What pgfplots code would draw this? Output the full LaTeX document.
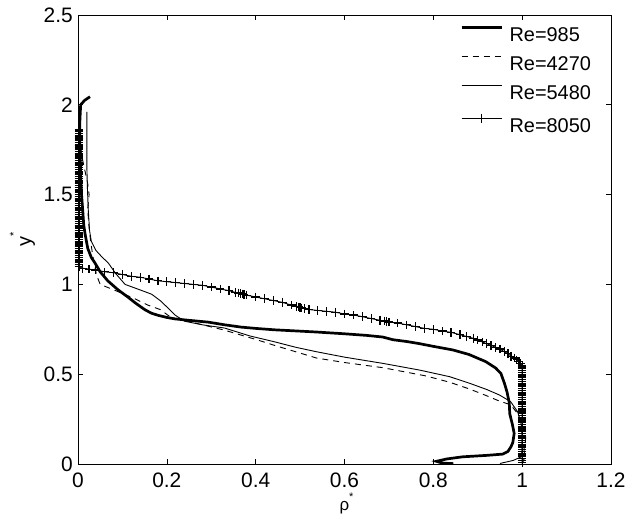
\documentclass[border=0pt]{standalone}
\usepackage{fontspec}
\setmainfont{Liberation Sans}
\usepackage{pgfplots}
\pgfplotsset{compat=1.18}
\begin{document}
\begin{tikzpicture}
\begin{axis}[
  name=ax,
  scale only axis,
  width=533bp, height=449bp,
  xmin=0, xmax=1.2, ymin=0, ymax=2.5,
  xtick={0,0.2,0.4,0.6,0.8,1,1.2},
  ytick={0,0.5,1,1.5,2,2.5},
  tick align=inside,
  major tick length=5bp,
  axis line style={line width=0.8bp},
  tick style={line width=0.6bp, black},
  /pgf/number format/assume math mode=true,
  ticklabel style={font=\fontsize{21}{24}\selectfont},
  xticklabel style={inner sep=0pt, anchor=north, yshift=-9bp},
  yticklabel style={inner sep=0pt, anchor=east, xshift=-5bp},
  xlabel={ρ\smash{\raisebox{9.5bp}{\fontsize{11}{11}\selectfont *}}},
  ylabel={y\smash{\raisebox{13.7bp}{\fontsize{11}{11}\selectfont *}}},
  xlabel style={font=\fontsize{17}{20}\selectfont, at={(axis description cs:0.5,0)}, anchor=base, yshift=-46bp, xshift=2bp, inner sep=0pt},
  ylabel style={font=\fontsize{20}{24}\selectfont, at={(axis description cs:-0.0882,0.5)}, anchor=base, inner sep=0pt},
  legend style={at={(rel axis cs:0.717,0.975)}, anchor=north west, draw=none, fill=none,
    inner sep=0pt, outer sep=0pt, row sep=14.4bp, column sep=0pt,
    nodes={inner sep=0pt, outer sep=0pt, text height=14.3bp, text depth=0pt, font=\fontsize{20}{24}\selectfont}},
  legend cell align=left,
  legend image code/.code={\draw[mark repeat=2,mark phase=2,#1] plot coordinates {(0bp,7bp)(20bp,7bp)(40bp,7bp)}; \path (46.7bp,7bp);},
]
% Re=985
\addplot[black, line width=2.7bp, mark=none] coordinates {
(0.027,2.045) (0.015,2.025) (0.006,2.0) (0.004,1.9) (0.004,1.8) (0.005,1.7) (0.006,1.6) (0.008,1.5) (0.011,1.4) (0.013,1.33) (0.016,1.28) (0.022,1.20) (0.030,1.15) (0.038,1.12) (0.050,1.07) (0.067,1.02) (0.09,0.97) (0.112,0.93) (0.13,0.895) (0.15,0.86) (0.165,0.84) (0.18,0.828) (0.20,0.816) (0.218,0.808) (0.25,0.80) (0.293,0.79) (0.33,0.775) (0.368,0.762) (0.40,0.755) (0.443,0.747) (0.49,0.741) (0.536,0.735) (0.60,0.725) (0.65,0.716) (0.686,0.707) (0.709,0.692) (0.74,0.682) (0.769,0.670) (0.80,0.655) (0.844,0.635) (0.88,0.61) (0.918,0.57) (0.94,0.535) (0.952,0.505) (0.96,0.45) (0.966,0.40) (0.971,0.34) (0.972,0.28) (0.978,0.22) (0.982,0.17) (0.979,0.12) (0.975,0.097) (0.968,0.07) (0.956,0.055) (0.92,0.048) (0.866,0.040) (0.83,0.028) (0.807,0.015) (0.82,0.005) (0.845,0.002)
};
\addlegendentry{Re=985}
% Re=4270
\addplot[black, line width=0.9bp, dash pattern=on 6bp off 5bp, mark=none] coordinates {
(0.004,1.82) (0.008,1.72) (0.015,1.64) (0.022,1.56) (0.025,1.50) (0.022,1.42) (0.024,1.34) (0.028,1.25) (0.032,1.18) (0.036,1.12) (0.042,1.05) (0.05,1.00) (0.065,0.985) (0.09,0.96) (0.128,0.92) (0.157,0.885) (0.185,0.86) (0.21,0.815) (0.256,0.79) (0.33,0.745) (0.405,0.69) (0.443,0.66) (0.49,0.625) (0.537,0.59) (0.60,0.565) (0.687,0.536) (0.784,0.49) (0.837,0.455) (0.881,0.418) (0.92,0.38) (0.949,0.35) (0.974,0.33) (0.99,0.28) (0.997,0.24) (1.006,0.19) (1.008,0.15) (1.007,0.12) (1.004,0.08) (1.006,0.04) (1.0,0.0)
};
\addlegendentry{Re=4270}
% Re=5480
\addplot[black, line width=0.9bp, mark=none] coordinates {
(0.020,1.96) (0.020,1.80) (0.020,1.65) (0.021,1.55) (0.023,1.42) (0.026,1.30) (0.030,1.24) (0.040,1.19) (0.055,1.15) (0.068,1.12) (0.085,1.06) (0.106,1.00) (0.128,0.98) (0.15,0.96) (0.166,0.945) (0.185,0.91) (0.202,0.87) (0.218,0.83) (0.24,0.795) (0.28,0.775) (0.33,0.757) (0.387,0.713) (0.443,0.68) (0.49,0.65) (0.537,0.625) (0.60,0.595) (0.687,0.56) (0.769,0.523) (0.837,0.486) (0.881,0.45) (0.92,0.415) (0.949,0.384) (0.974,0.347) (0.99,0.29) (0.998,0.22) (1.0,0.15) (1.0,0.08) (0.998,0.04) (0.98,0.02) (0.95,0.003)
};
\addlegendentry{Re=5480}
% Re=8050
\addplot[black, line width=0.9bp, mark=+, mark size=4.3bp, mark options={line width=1.25bp, solid}] coordinates {
(0.002,1.86) (0.002,1.85) (0.002,1.84) (0.002,1.83) (0.002,1.82) (0.002,1.81) (0.002,1.80) (0.002,1.79) (0.002,1.78) (0.002,1.77) (0.002,1.76) (0.002,1.75) (0.002,1.74) (0.002,1.73) (0.002,1.72) (0.002,1.71) (0.002,1.70) (0.002,1.69) (0.002,1.68) (0.002,1.67) (0.002,1.66) (0.002,1.65) (0.002,1.64) (0.002,1.63) (0.002,1.62) (0.002,1.61) (0.002,1.60) (0.002,1.59) (0.002,1.58) (0.002,1.57) (0.002,1.56) (0.002,1.55) (0.002,1.54) (0.002,1.53) (0.002,1.52) (0.002,1.51) (0.002,1.50) (0.002,1.49) (0.002,1.48) (0.002,1.47) (0.002,1.46) (0.002,1.45) (0.002,1.44) (0.002,1.43) (0.002,1.42) (0.002,1.41) (0.002,1.40) (0.002,1.39) (0.002,1.38) (0.002,1.37) (0.002,1.36) (0.002,1.35) (0.002,1.34) (0.002,1.33) (0.002,1.32) (0.002,1.31) (0.002,1.30) (0.002,1.29) (0.002,1.28) (0.002,1.27) (0.002,1.26) (0.002,1.25) (0.002,1.24) (0.002,1.23) (0.002,1.22) (0.002,1.21) (0.002,1.20) (0.002,1.19) (0.002,1.18) (0.002,1.17) (0.002,1.16) (0.002,1.15) (0.002,1.14) (0.002,1.13) (0.002,1.12) (0.002,1.11)
(0.002,1.10) (0.01,1.09) (0.025,1.085) (0.04,1.08) (0.06,1.07) (0.08,1.065) (0.10,1.055) (0.12,1.045) (0.14,1.04) (0.16,1.03) (0.18,1.02) (0.20,1.015) (0.22,1.01) (0.24,1.005) (0.26,1.0) (0.28,0.995) (0.30,0.985) (0.32,0.975) (0.34,0.965) (0.355,0.955) (0.362,0.952) (0.366,0.95) (0.37,0.947) (0.374,0.944) (0.38,0.94) (0.40,0.93) (0.42,0.92) (0.44,0.91) (0.46,0.90) (0.48,0.885) (0.492,0.878) (0.496,0.875) (0.5,0.872) (0.504,0.869) (0.51,0.865) (0.52,0.86) (0.54,0.855) (0.56,0.85) (0.58,0.845) (0.60,0.835) (0.62,0.83) (0.64,0.82) (0.66,0.81) (0.68,0.80) (0.69,0.796) (0.695,0.794) (0.70,0.79) (0.72,0.785) (0.74,0.775) (0.76,0.765) (0.78,0.755) (0.80,0.75) (0.82,0.74) (0.84,0.733) (0.86,0.72) (0.875,0.71) (0.89,0.70) (0.90,0.69) (0.91,0.68) (0.92,0.67) (0.93,0.66) (0.94,0.65) (0.95,0.64) (0.96,0.625) (0.968,0.615) (0.975,0.60) (0.982,0.59) (0.988,0.58) (0.993,0.57) (0.997,0.56)
(1.0,0.55) (1.0,0.54) (1.0,0.53) (1.0,0.52) (1.0,0.51) (1.0,0.50) (1.0,0.49) (1.0,0.48) (1.0,0.47) (1.0,0.46) (1.0,0.45) (1.0,0.44) (1.0,0.43) (1.0,0.42) (1.0,0.41) (1.0,0.40) (1.0,0.39) (1.0,0.38) (1.0,0.37) (1.0,0.36) (1.0,0.35) (1.0,0.34) (1.0,0.33) (1.0,0.32) (1.0,0.31) (1.0,0.30) (1.0,0.29) (1.0,0.28) (1.0,0.27) (1.0,0.26) (1.0,0.25) (1.0,0.24) (1.0,0.23) (1.0,0.22) (1.0,0.21) (1.0,0.20) (1.0,0.19) (1.0,0.18) (1.0,0.17) (1.0,0.16) (1.0,0.15) (1.0,0.14) (1.0,0.13) (1.0,0.12) (1.0,0.11) (1.0,0.10) (1.0,0.09) (1.0,0.08) (1.0,0.07) (1.0,0.06) (1.0,0.05) (1.0,0.04) (1.0,0.03) (1.0,0.02) (1.0,0.01)
};
\addlegendentry{Re=8050}
\end{axis}
\pgfresetboundingbox
\useasboundingbox ([shift={(-78bp,-65bp)}]ax.south west) rectangle ([shift={(22bp,15bp)}]ax.north east);
\end{tikzpicture}
\end{document}
